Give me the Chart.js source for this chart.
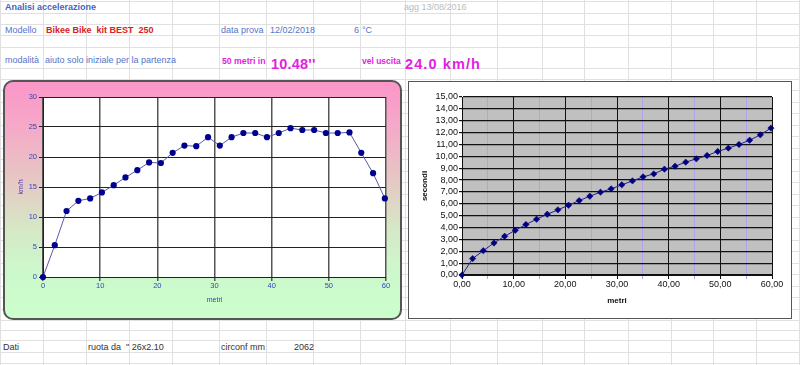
<!DOCTYPE html>
<html>
<head>
<meta charset="utf-8">
<script src="https://cdn.jsdelivr.net/npm/chart.js@4.4.1/dist/chart.umd.min.js"></script>
<style>
body { margin:0; width:800px; height:365px; overflow:hidden; background:#fff; position:relative; font-family:'Liberation Sans', Arial, sans-serif; }
.gl { position:absolute; background:#e0e0e0; }
.t { position:absolute; white-space:nowrap; font-size:9px; line-height:12px; color:#5674c8; }
.b { font-weight:bold; }
.red { color:#d82020; }
.mag { color:#e21ee2; font-weight:bold; }
.big { font-size:14.5px; line-height:20px; }
.dk { color:#333; }
#box1 { position:absolute; left:3px; top:80px; width:399px; height:240px; box-sizing:border-box; border:2px solid #555; border-radius:10px;
  background:linear-gradient(#fb96c8 0%, #f6a8c8 18%, #e6c8c4 42%, #d6e8c6 62%, #ccf8cc 80%, #ccffcc 100%); }
#box2 { position:absolute; left:408px; top:81px; width:384px; height:238px; box-sizing:border-box; border:1px solid #555; background:#fff; }
canvas { position:absolute; }
</style>
</head>
<body>
<div id="grid"></div>

<div class="t b" style="left:5px;top:1px;color:#4464c0">Analisi accelerazione</div>
<div class="t" style="left:404px;top:1px;color:#bbb">agg 13/08/2016</div>

<div class="t" style="left:5px;top:24px">Modello</div>
<div class="t b red" style="left:46px;top:24px">Bikee Bike&nbsp; kit BEST&nbsp; 250</div>
<div class="t" style="left:221px;top:24px">data prova</div>
<div class="t" style="left:270px;top:24px">12/02/2018</div>
<div class="t" style="left:354px;top:24px">6</div>
<div class="t" style="left:362px;top:24px">°C</div>

<div class="t" style="left:5px;top:54px">modalità</div>
<div class="t" style="left:45px;top:54px">aiuto solo iniziale per la partenza</div>
<div class="t mag" style="left:222px;top:55px;font-size:8.7px">50 metri in</div>
<div class="t mag big" style="left:271px;top:54px;letter-spacing:0.2px">10.48''</div>
<div class="t mag" style="left:362px;top:55px;font-size:8.5px">vel uscita</div>
<div class="t mag big" style="left:405px;top:54px;letter-spacing:1.1px">24.0 km/h</div>

<div class="t dk" style="left:3px;top:341px">Dati</div>
<div class="t dk" style="left:88px;top:341px">ruota da</div>
<div class="t dk" style="left:126px;top:341px">" 26x2.10</div>
<div class="t dk" style="left:221px;top:341px">circonf mm</div>
<div class="t dk" style="left:294px;top:341px">2062</div>

<div id="box1"></div>
<div id="box2"></div>
<canvas id="velChart" width="399" height="240" style="left:3px;top:80px"></canvas>
<canvas id="tempoChart" width="384" height="238" style="left:408px;top:81px"></canvas>

<script>
// dati della prova (ruota 2062 mm, un punto per giro)
const metri = [0, 2.06, 4.12, 6.19, 8.25, 10.31, 12.37, 14.43, 16.50, 18.56, 20.62, 22.68, 24.74, 26.81, 28.87,
  30.93, 32.99, 35.05, 37.12, 39.18, 41.24, 43.30, 45.36, 47.43, 49.49, 51.55, 53.61, 55.67, 57.74, 59.80];
const velocita = [0, 5.3, 11.0, 12.7, 13.1, 14.1, 15.3, 16.6, 17.8, 19.1, 19.0, 20.7, 21.9, 21.8, 23.3,
  21.9, 23.3, 24.0, 24.0, 23.3, 24.0, 24.8, 24.5, 24.5, 24.0, 24.0, 24.1, 20.7, 17.3, 13.1];
const secondi = [0, 1.38, 2.05, 2.70, 3.26, 3.77, 4.25, 4.70, 5.12, 5.49, 5.88, 6.27, 6.64, 6.98, 7.26,
  7.60, 7.93, 8.27, 8.52, 8.92, 9.17, 9.51, 9.79, 10.07, 10.41, 10.69, 11.00, 11.36, 11.81, 12.38];

// assi
const metriMax = 60, metriStep = 10;
const velMax = 30, velStep = 5;
const secMax = 15, secStep = 1;

// griglia del foglio
const colX = [0, 43, 86, 129, 172, 219, 266, 313, 360, 405, 450, 497, 542, 584, 628, 671, 713, 756, 799];
const rowY = [1, 13, 24, 35, 47, 68, 79];
for (let y = 90; y < 320; y += 11.5) rowY.push(Math.round(y));
rowY.push(320, 330, 340, 352, 363);
const grid = document.getElementById('grid');
colX.forEach(x => {
  const d = document.createElement('div');
  d.className = 'gl';
  d.style.cssText = `left:${x}px;top:0;width:1px;height:365px`;
  grid.appendChild(d);
});
rowY.forEach(y => {
  const d = document.createElement('div');
  d.className = 'gl';
  d.style.cssText = `left:0;top:${y}px;width:800px;height:1px`;
  grid.appendChild(d);
});

// sfondo area del grafico
const plotBg = {
  id: 'plotBg',
  beforeDraw(chart, args, opts) {
    const { ctx, chartArea: a } = chart;
    ctx.save();
    ctx.fillStyle = opts.color;
    ctx.fillRect(a.left, a.top, a.right - a.left, a.bottom - a.top);
    ctx.restore();
  }
};

const FONT = "'Liberation Sans', Arial, sans-serif";
const virgola = v => Number(v).toFixed(2).replace('.', ',');

// Velocità - km/h
const velChart = new Chart(document.getElementById('velChart'), {
  type: 'line',
  data: {
    datasets: [{
      data: metri.map((m, i) => ({ x: m, y: velocita[i] })),
      borderColor: '#5a5aa6',
      borderWidth: 1,
      pointRadius: 3.1,
      pointBackgroundColor: '#000090',
      pointBorderWidth: 0,
      tension: 0,
      clip: false
    }]
  },
  options: {
    responsive: false,
    animation: false,
    layout: { padding: { top: 17, right: 16, left: 0, bottom: 0 } },
    plugins: { legend: { display: false }, tooltip: { enabled: false }, plotBg: { color: '#fff' } },
    scales: {
      x: {
        type: 'linear', min: 0, max: metriMax,
        afterFit: s => { s.height = 43; },
        ticks: { stepSize: metriStep, padding: 0, maxRotation: 0, autoSkip: false, color: '#3344bb', font: { family: FONT, size: 7.5 } },
        grid: { color: '#555', lineWidth: 1.5, tickLength: 4 },
        border: { color: '#222' },
        title: { display: true, text: 'metri', color: '#3344bb', font: { family: FONT, size: 7 }, padding: { bottom: 15.8, top: 0 } }
      },
      y: {
        min: 0, max: velMax,
        afterFit: s => { s.width = 40; },
        ticks: { stepSize: velStep, padding: 2, autoSkip: false, color: '#3344bb', font: { family: FONT, size: 7.5 } },
        grid: { color: '#222', lineWidth: 1, tickLength: 4 },
        border: { color: '#222' },
        title: { display: true, text: 'km/h', color: '#5533bb', font: { family: FONT, size: 7 }, padding: { top: 13.5, bottom: 0 } }
      }
    }
  },
  plugins: [plotBg]
});

// Tempo - secondi
const tempoChart = new Chart(document.getElementById('tempoChart'), {
  type: 'line',
  data: {
    datasets: [{
      data: metri.map((m, i) => ({ x: m, y: secondi[i] })),
      borderColor: '#22228a',
      borderWidth: 1,
      pointStyle: 'rectRot',
      pointRadius: 3.2,
      pointBackgroundColor: '#000080',
      pointBorderColor: '#000080',
      pointBorderWidth: 0.5,
      tension: 0,
      clip: false
    }]
  },
  options: {
    responsive: false,
    animation: false,
    layout: { padding: { top: 16, right: 20, left: 0, bottom: 0 } },
    plugins: { legend: { display: false }, tooltip: { enabled: false }, plotBg: { color: '#c0c0c0' } },
    scales: {
      x: {
        type: 'linear', min: 0, max: metriMax,
        afterFit: s => { s.height = 44; },
        ticks: {
          stepSize: metriStep / 2, padding: 0, maxRotation: 0, minRotation: 0, autoSkip: false,
          color: '#111', font: { family: FONT, size: 9 },
          callback: v => (v % metriStep === 0 ? virgola(v) : '')
        },
        grid: { color: c => (c.tick && c.tick.value % metriStep === 0 ? '#111' : '#b4a0ec'), lineWidth: 1, tickLength: 4 },
        border: { color: '#111' },
        title: { display: true, text: 'metri', color: '#111', font: { family: FONT, size: 8, weight: 'bold' }, padding: { bottom: 13.5, top: 0 } }
      },
      y: {
        min: 0, max: secMax,
        afterFit: s => { s.width = 54; },
        ticks: { stepSize: secStep, padding: 1, autoSkip: false, color: '#111', font: { family: FONT, size: 9 }, callback: v => virgola(v) },
        grid: { color: '#111', lineWidth: 1.2, tickLength: 3 },
        border: { color: '#111' },
        title: { display: true, text: 'secondi', color: '#111', font: { family: FONT, size: 8, weight: 'bold' }, padding: { top: 12.2, bottom: 0 } }
      }
    }
  },
  plugins: [plotBg]
});
</script>
</body>
</html>
